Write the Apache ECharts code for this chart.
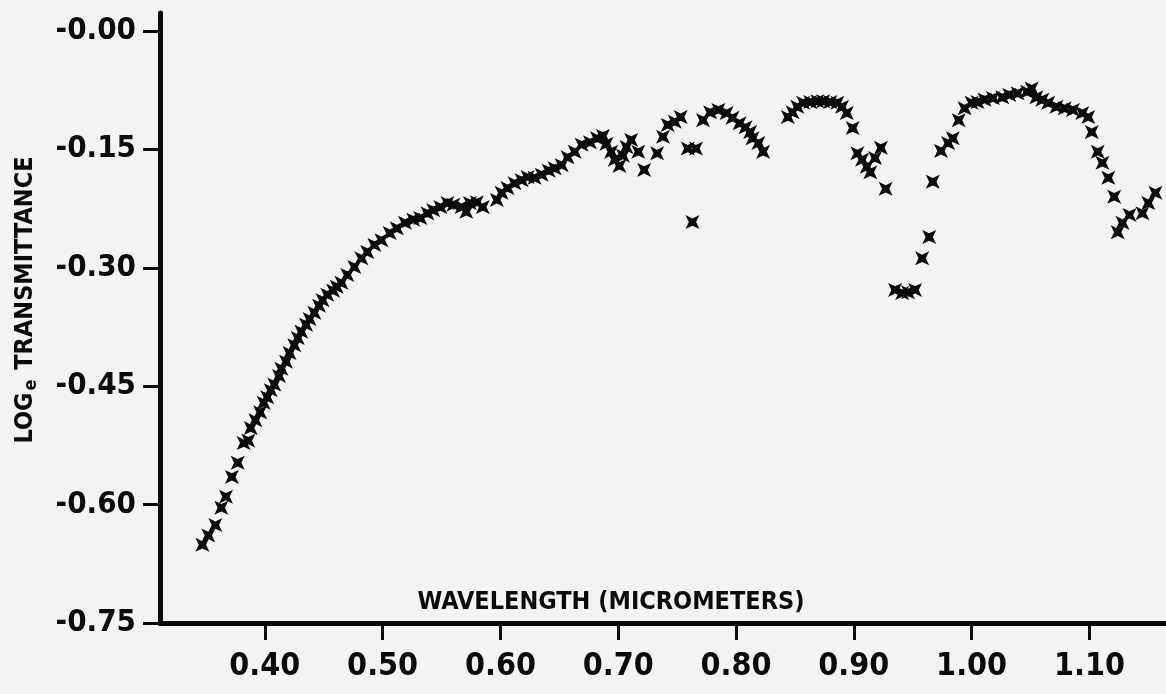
<!DOCTYPE html>
<html>
<head>
<meta charset="utf-8">
<script src="https://cdn.jsdelivr.net/npm/echarts@6/dist/echarts.min.js"></script>
<style>
html,body{margin:0;padding:0;background:#f3f3f1;}
#chart{width:1166px;height:694px;}
</style>
</head>
<body>
<div id="chart"></div>
<script>
// Wavelength (micrometers)
const wavelength = [
  0.347,0.352,0.358,0.363,0.367,0.372,0.377,0.382,0.386,0.388,
  0.392,0.396,0.399,0.402,0.405,0.408,0.412,0.414,0.418,0.421,
  0.425,0.428,0.431,0.435,0.438,0.442,0.446,0.449,0.453,0.458,
  0.461,0.465,0.470,0.476,0.482,0.487,0.493,0.499,0.506,0.512,
  0.519,0.526,0.532,0.538,0.543,0.549,0.555,0.560,0.567,0.571,
  0.574,0.580,0.585,0.597,0.601,0.606,0.612,0.618,0.623,0.629,
  0.635,0.641,0.646,0.652,0.657,0.663,0.669,0.676,0.682,0.687,
  0.690,0.694,0.697,0.701,0.704,0.707,0.711,0.717,0.722,0.733,
  0.738,0.742,0.748,0.753,0.759,0.763,0.766,0.772,0.778,0.785,
  0.792,0.797,0.803,0.808,0.812,0.814,0.819,0.823,0.844,0.848,
  0.852,0.857,0.863,0.869,0.874,0.880,0.886,0.890,0.894,0.899,
  0.903,0.907,0.911,0.914,0.918,0.923,0.927,0.935,0.941,0.946,
  0.952,0.958,0.964,0.967,0.974,0.980,0.984,0.989,0.994,1.000,
  1.005,1.011,1.018,1.026,1.032,1.039,1.047,1.051,1.055,1.060,
  1.065,1.072,1.079,1.086,1.094,1.099,1.102,1.107,1.111,1.116,
  1.121,1.124,1.128,1.134,1.145,1.150,1.156
];
// Log_e transmittance
const logTransmittance = [
  -0.651,-0.639,-0.626,-0.604,-0.590,-0.565,-0.547,-0.522,-0.519,-0.503,
  -0.493,-0.483,-0.471,-0.464,-0.455,-0.448,-0.437,-0.428,-0.419,-0.408,
  -0.398,-0.389,-0.381,-0.372,-0.365,-0.357,-0.348,-0.341,-0.334,-0.329,
  -0.324,-0.319,-0.309,-0.299,-0.288,-0.280,-0.271,-0.265,-0.256,-0.250,
  -0.243,-0.239,-0.237,-0.231,-0.227,-0.223,-0.218,-0.220,-0.223,-0.229,
  -0.218,-0.217,-0.223,-0.214,-0.205,-0.199,-0.193,-0.189,-0.185,-0.186,
  -0.182,-0.177,-0.174,-0.170,-0.160,-0.153,-0.144,-0.141,-0.136,-0.133,
  -0.143,-0.153,-0.163,-0.171,-0.158,-0.147,-0.138,-0.153,-0.176,-0.155,
  -0.134,-0.119,-0.115,-0.109,-0.149,-0.242,-0.149,-0.113,-0.103,-0.100,
  -0.104,-0.110,-0.117,-0.122,-0.128,-0.136,-0.142,-0.153,-0.109,-0.103,
  -0.096,-0.091,-0.090,-0.089,-0.089,-0.090,-0.091,-0.096,-0.104,-0.123,
  -0.155,-0.163,-0.172,-0.179,-0.161,-0.148,-0.200,-0.328,-0.332,-0.331,
  -0.328,-0.288,-0.261,-0.191,-0.152,-0.142,-0.136,-0.113,-0.098,-0.091,
  -0.090,-0.087,-0.085,-0.084,-0.081,-0.079,-0.077,-0.073,-0.084,-0.087,
  -0.091,-0.096,-0.098,-0.100,-0.104,-0.109,-0.128,-0.153,-0.167,-0.186,
  -0.210,-0.255,-0.243,-0.233,-0.231,-0.218,-0.205
];
const xTickValues = [0.40,0.50,0.60,0.70,0.80,0.90,1.00,1.10];
const xTickLabels = ['0.40','0.50','0.60','0.70','0.80','0.90','1.00','1.10'];
const yTickValues = [-0.75,-0.60,-0.45,-0.30,-0.15,0];
const yTickLabels = ['-0.75','-0.60','-0.45','-0.30','-0.15','-0.00'];
const xAxisTitle = 'WAVELENGTH (MICROMETERS)';
const yAxisTitleMain = 'LOG';
const yAxisTitleSub = 'e';
const yAxisTitleRest = ' TRANSMITTANCE';

const INK = '#0b0b0b';
const NARROW = '"Liberation Sans Narrow", "DejaVu Sans Condensed", "Liberation Sans", sans-serif';

function pick(values, labels, v) {
  let best = 0, bd = Infinity;
  values.forEach((t, i) => { const d = Math.abs(t - v); if (d < bd) { bd = d; best = i; } });
  return bd < 1e-6 ? labels[best] : '';
}

const points = wavelength.map((w, i) => [w, logTransmittance[i]]);

const chart = echarts.init(document.getElementById('chart'), null, {renderer: 'canvas'});
chart.setOption({
  backgroundColor: '#f3f3f1',
  animation: false,
  grid: {left: 160, right: 0, top: 13, bottom: 71, containLabel: false},
  xAxis: {
    type: 'value', min: 0.311, max: 1.165,
    axisLine: {show: true, onZero: false, lineStyle: {color: INK, width: 5}},
    axisTick: {show: true, customValues: xTickValues, length: 17, lineStyle: {color: INK, width: 3}},
    axisLabel: {
      show: true, customValues: xTickValues, margin: 28,
      formatter: v => pick(xTickValues, xTickLabels, v),
      color: INK, fontFamily: NARROW, fontWeight: 'bold', fontSize: 32
    },
    splitLine: {show: false}
  },
  yAxis: {
    type: 'value', min: -0.75, max: 0.0228,
    axisLine: {show: true, onZero: false, lineStyle: {color: INK, width: 5}},
    axisTick: {show: true, customValues: yTickValues, length: 17, lineStyle: {color: INK, width: 3}},
    axisLabel: {
      show: true, customValues: yTickValues, margin: 24,
      formatter: v => pick(yTickValues, yTickLabels, v),
      color: INK, fontFamily: NARROW, fontWeight: 'bold', fontSize: 31
    },
    splitLine: {show: false}
  },
  graphic: [
    {
      type: 'text', x: 611, y: 602,
      style: {text: xAxisTitle, fill: INK, font: 'bold 25px ' + NARROW, align: 'center', verticalAlign: 'middle'}
    },
    {
      type: 'text', x: 25, y: 300, rotation: Math.PI / 2,
      style: {
        text: '{m|' + yAxisTitleMain + '}{s|' + yAxisTitleSub + '}{m|' + yAxisTitleRest + '}',
        align: 'center', verticalAlign: 'middle',
        rich: {
          m: {fill: INK, fontFamily: NARROW, fontWeight: 'bold', fontSize: 25, lineHeight: 30, verticalAlign: 'middle'},
          s: {fill: INK, fontFamily: NARROW, fontWeight: 'bold', fontSize: 18, lineHeight: 30, verticalAlign: 'bottom', padding: [14, 2, 0, 2]}
        }
      }
    }
  ],
  series: [{
    type: 'scatter',
    data: points,
    symbol: 'path://M0,0 L5,2.4 L10,0 L7.6,5 L10,10 L5,7.6 L0,10 L2.4,5 Z',
    symbolSize: 14,
    itemStyle: {color: INK, opacity: 1}
  }]
});
</script>
</body>
</html>
